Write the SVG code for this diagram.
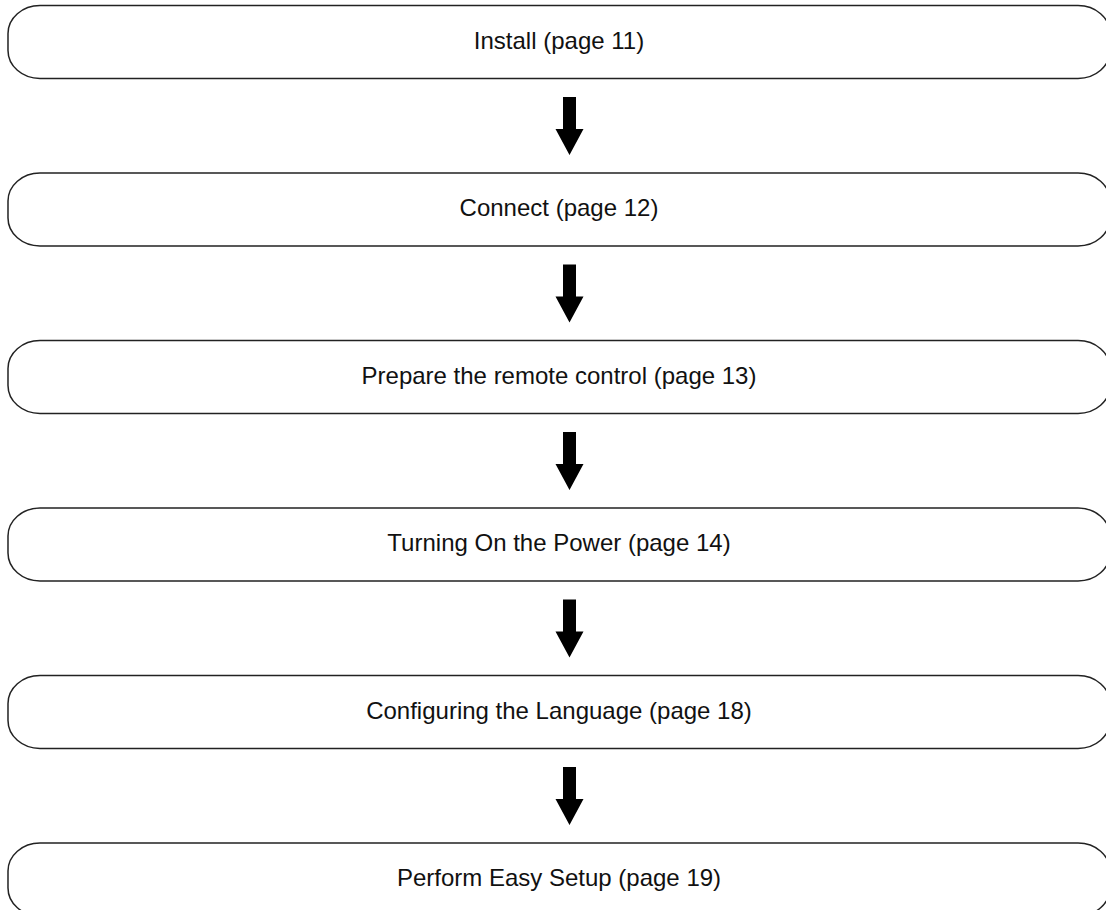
<svg xmlns="http://www.w3.org/2000/svg" width="1106" height="910" viewBox="0 0 1106 910">
<style>
.box{fill:#fff;stroke:#222;stroke-width:1.5}
.lbl{font-family:"Liberation Sans",Arial,sans-serif;font-size:24px;fill:#111;text-anchor:middle}
.arr{fill:#000}
</style>
<rect width="1106" height="910" fill="#fff"/>
<g id="connectors">
<polygon class="arr" points="563,97 576,97 576,129 583.5,129 569.5,155 555.5,129 563,129"/>
<polygon class="arr" points="563,264.5 576,264.5 576,296.5 583.5,296.5 569.5,322.5 555.5,296.5 563,296.5"/>
<polygon class="arr" points="563,432 576,432 576,464 583.5,464 569.5,490 555.5,464 563,464"/>
<polygon class="arr" points="563,599.5 576,599.5 576,631.5 583.5,631.5 569.5,657.5 555.5,631.5 563,631.5"/>
<polygon class="arr" points="563,767 576,767 576,799 583.5,799 569.5,825 555.5,799 563,799"/>
</g>
<g id="node1"><rect class="box" x="8" y="5.5" width="1102" height="73" rx="32" ry="28"/><text class="lbl" x="559" y="48.5">Install (page 11)</text></g>
<g id="node2"><rect class="box" x="8" y="173" width="1102" height="73" rx="32" ry="28"/><text class="lbl" x="559" y="216">Connect (page 12)</text></g>
<g id="node3"><rect class="box" x="8" y="340.5" width="1102" height="73" rx="32" ry="28"/><text class="lbl" x="559" y="383.5">Prepare the remote control (page 13)</text></g>
<g id="node4"><rect class="box" x="8" y="508" width="1102" height="73" rx="32" ry="28"/><text class="lbl" x="559" y="551">Turning On the Power (page 14)</text></g>
<g id="node5"><rect class="box" x="8" y="675.5" width="1102" height="73" rx="32" ry="28"/><text class="lbl" x="559" y="718.5">Configuring the Language (page 18)</text></g>
<g id="node6"><rect class="box" x="8" y="843" width="1102" height="73" rx="32" ry="28"/><text class="lbl" x="559" y="886">Perform Easy Setup (page 19)</text></g>
</svg>
